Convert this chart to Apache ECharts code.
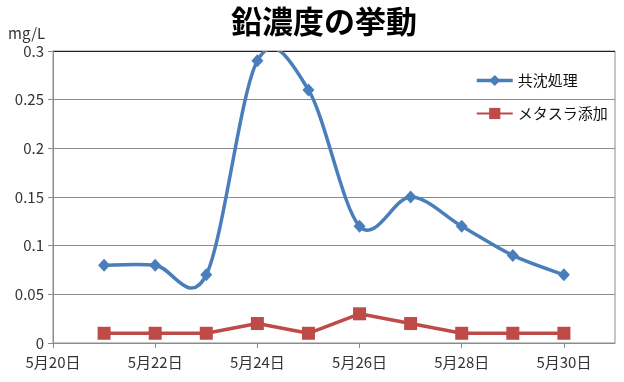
<!DOCTYPE html>
<html><head><meta charset="utf-8">
<script src="https://cdn.jsdelivr.net/npm/echarts@6/dist/echarts.min.js"></script>
<style>html,body{margin:0;padding:0;background:#fff}#c{width:624px;height:382px}</style>
</head><body><div id="c"></div>
<script>
const days = [21, 22, 23, 24, 25, 26, 27, 28, 29, 30];
const kyochin = [0.08, 0.08, 0.07, 0.29, 0.26, 0.12, 0.15, 0.12, 0.09, 0.07];
const metasura = [0.01, 0.01, 0.01, 0.02, 0.01, 0.03, 0.02, 0.01, 0.01, 0.01];
const seriesNames = ['共沈処理', 'メタスラ添加'];
const titleText = '鉛濃度の挙動';
const unitText = 'mg/L';

const BLUE = '#4a7ebb', RED = '#be4b48', GRID = '#8c8c8c';
const font = '"Noto Sans CJK JP", "Noto Sans", sans-serif';
const chart = echarts.init(document.getElementById('c'));

// Excel-style (Catmull-Rom) smoothed path through the points, via the axis scales
function smoothPath(api) {
  const p = days.map((d, i) => api.coord([d, kyochin[i]]));
  const n = p.length;
  let s = 'M' + p[0][0] + ' ' + p[0][1];
  for (let i = 0; i < n - 1; i++) {
    const a = p[Math.max(i - 1, 0)], b = p[i], c = p[i + 1], d = p[Math.min(i + 2, n - 1)];
    const c1x = b[0] + (c[0] - a[0]) / 6, c1y = b[1] + (c[1] - a[1]) / 6;
    const c2x = c[0] - (d[0] - b[0]) / 6, c2y = c[1] - (d[1] - b[1]) / 6;
    s += ' C' + c1x + ' ' + c1y + ' ' + c2x + ' ' + c2y + ' ' + c[0] + ' ' + c[1];
  }
  return s;
}

chart.setOption({
  animation: false,
  textStyle: { fontFamily: font },
  title: {
    text: titleText, left: 226, top: 1,
    textStyle: { fontSize: 31, fontWeight: 'bold', color: '#000', fontFamily: font }
  },
  graphic: [{
    type: 'text', left: 8, top: 26,
    style: { text: unitText, fontSize: 15, fill: '#333', fontFamily: font }
  }],
  legend: {
    orient: 'vertical', left: 470, top: 68, itemGap: 18,
    itemWidth: 36, itemHeight: 14,
    textStyle: { fontSize: 15, color: '#111', fontFamily: font },
    data: [
      { name: seriesNames[0], lineStyle: { opacity: 1, width: 3.5, color: BLUE } },
      { name: seriesNames[1] }
    ]
  },
  grid: { left: 53, right: 9, top: 51, bottom: 39, show: true, borderColor: GRID, borderWidth: 1 },
  xAxis: {
    type: 'value', min: 20, max: 31, interval: 2,
    axisLine: { lineStyle: { color: GRID } },
    axisTick: { length: 5, lineStyle: { color: GRID } },
    splitLine: { show: false },
    axisLabel: {
      color: '#333', fontSize: 15, margin: 12, showMaxLabel: false,
      formatter: v => (v === 31 ? '' : '5月' + v + '日')
    }
  },
  yAxis: {
    type: 'value', min: 0, max: 0.3, interval: 0.05,
    axisLine: { show: true, lineStyle: { color: GRID } },
    axisTick: { show: true, length: 5, lineStyle: { color: GRID } },
    splitLine: { lineStyle: { color: [GRID, GRID, GRID, GRID, GRID, GRID, '#222'] } },
    axisLabel: { color: '#333', fontSize: 15, margin: 9, formatter: v => String(+v.toFixed(2)) }
  },
  series: [
    {
      type: 'custom', name: 'curve', coordinateSystem: 'cartesian2d', silent: true, clip: true,
      data: [[days[0], kyochin[0]]], z: 2,
      renderItem: (params, api) => ({
        type: 'path',
        shape: { pathData: smoothPath(api) },
        style: { stroke: BLUE, lineWidth: 3.5, fill: null, lineJoin: 'round', lineCap: 'round' }
      })
    },
    {
      name: seriesNames[0], type: 'line', z: 3,
      data: days.map((d, i) => [d, kyochin[i]]),
      symbol: 'diamond', symbolSize: [12, 13],
      lineStyle: { color: BLUE, width: 3.5, opacity: 0 },
      itemStyle: { color: BLUE }
    },
    {
      name: seriesNames[1], type: 'line', z: 3,
      data: days.map((d, i) => [d, metasura[i]]),
      symbol: 'rect', symbolSize: 13,
      lineStyle: { color: RED, width: 3.5 },
      itemStyle: { color: RED }
    }
  ]
});
</script></body></html>
